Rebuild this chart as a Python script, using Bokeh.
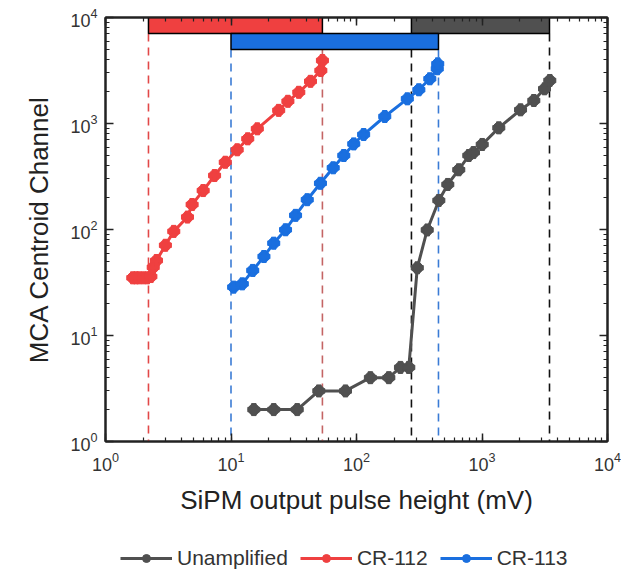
from bokeh.plotting import figure
from bokeh.layouts import column
from bokeh.models import LogAxis, Legend, LegendItem, Range1d, CustomJSTickFormatter
from bokeh.embed import file_html
from bokeh.resources import INLINE

# ---------------- data ----------------
gray_x = [15.2, 21.9, 33.7, 50.1, 81.7, 129, 181, 224, 261, 305, 366, 453, 534, 653, 785, 855, 1004, 1361, 2028, 2588, 3148, 3470]
gray_y = [2, 2, 2, 3, 3, 4, 4, 5, 5, 43.5, 99, 188, 266, 366, 499, 532, 634, 910, 1346, 1648, 2125, 2545]

red_x = [1.65, 1.75, 1.85, 2.0, 2.15, 2.3, 2.4, 2.55, 3.0, 3.5, 4.5, 4.9, 6.0, 7.4, 9.0, 11.2, 13.6, 16.2, 24.0, 28.4, 34.7, 43.0, 52.0, 53.5]
red_y = [35, 35, 35, 35, 35, 36, 44, 51, 71, 96, 131, 172, 233, 323, 431, 565, 717, 891, 1330, 1620, 1970, 2500, 3160, 3930]

blue_x = [10.5, 12.3, 14.9, 18.3, 21.9, 27.2, 32.7, 40.5, 51.6, 65.2, 79.2, 95.1, 114, 168, 254, 314, 384, 440, 444]
blue_y = [28.6, 30.7, 41.1, 55.6, 74.3, 99.4, 136, 191, 273, 382, 499, 642, 787, 1164, 1709, 2080, 2641, 3282, 3656]

series_names = ["Unamplified", "CR-112", "CR-113"]
series_colors = ["#505050", "#ef4040", "#1a6fdf"]

# operating-range bars at the top
bar_left = [2.2, 274, 10]
bar_right = [53.5, 3450, 450]
bar_bottom = [7060, 7060, 4990]
bar_top = [10000, 10000, 7060]
bar_colors = ["#ef4040", "#505050", "#1a6fdf"]

# dashed range limits
dash_x = [2.2, 53.5, 10, 450, 274, 3450]
dash_top = [7060, 7060, 4990, 4990, 4990, 7060]
dash_bottom = [1, 1, 1, 1, 1, 1]
dash_colors = ["#e24848", "#c46464", "#3a7bd5", "#3a7bd5", "#111111", "#111111"]

FONT = "Liberation Sans"

p = figure(width=621, height=530, x_axis_type="log", y_axis_type="log",
           x_range=Range1d(1, 10000), y_range=Range1d(1, 10000),
           output_backend="svg", toolbar_location=None,
           min_border_left=105, min_border_right=14, min_border_top=17, min_border_bottom=89)
p.grid.visible = False
p.outline_line_color = "#222222"
p.outline_line_width = 2

# dashed lines
p.segment(x0=dash_x, x1=dash_x, y0=dash_top, y1=dash_bottom, line_color=dash_colors,
          line_width=1.6, line_dash="8 6")

series = [(gray_x, gray_y), (red_x, red_y), (blue_x, blue_y)]
for (xs, ys), col in zip(series, series_colors):
    p.line(xs, ys, line_color=col, line_width=3)
    p.scatter(xs, ys, marker="circle", size=11, fill_color=col, line_color=col)
    p.scatter(xs, ys, marker="plus", size=12, fill_color=col, line_color=col)

# top bars
p.quad(left=bar_left, right=bar_right, bottom=bar_bottom, top=bar_top,
       fill_color=bar_colors, line_color="#000000", line_width=1.5)

# axes styling
for ax in [p.xaxis[0], p.yaxis[0]]:
    ax.axis_line_width = 2
    ax.axis_line_color = "#222222"
    ax.major_tick_in = 8
    ax.major_tick_out = 0
    ax.minor_tick_in = 4
    ax.minor_tick_out = 0
    ax.major_tick_line_width = 1.5
    ax.minor_tick_line_width = 1.2
    ax.major_tick_line_color = "#222222"
    ax.minor_tick_line_color = "#222222"
    ax.major_label_text_font = FONT
    ax.major_label_text_font_size = "18px"
    ax.major_label_text_color = "#333333"
    ax.axis_label_text_font = FONT
    ax.axis_label_text_font_style = "normal"
    ax.axis_label_text_font_size = "26px"
    ax.axis_label_text_color = "#222222"
    ax.ticker.num_minor_ticks = 10

p.xaxis[0].axis_label = "SiPM output pulse height (mV)"
p.yaxis[0].axis_label = "MCA Centroid Channel"
p.xaxis[0].major_label_standoff = 10
p.xaxis[0].axis_label_standoff = 11
p.yaxis[0].major_label_standoff = 8
p.yaxis[0].axis_label_standoff = 13

for loc in ["above", "right"]:
    ax = LogAxis(formatter=CustomJSTickFormatter(code="return ''"))
    ax.axis_line_width = 2
    ax.axis_line_color = "#222222"
    ax.major_tick_in = 8
    ax.major_tick_out = 0
    ax.minor_tick_in = 4
    ax.minor_tick_out = 0
    ax.major_tick_line_width = 1.5
    ax.minor_tick_line_width = 1.2
    ax.major_tick_line_color = "#222222"
    ax.minor_tick_line_color = "#222222"
    ax.major_label_text_font_size = "0px"
    ax.major_label_standoff = 0
    ax.ticker.num_minor_ticks = 10
    p.add_layout(ax, loc)

# legend strip below the chart: the same series, held outside this strip's visible range
pl = figure(width=621, height=45, output_backend="svg", toolbar_location=None,
            x_axis_type=None, y_axis_type=None,
            x_range=Range1d(-1, 0), y_range=Range1d(-1, 0),
            min_border_left=0, min_border_right=0, min_border_top=0, min_border_bottom=0)
pl.grid.visible = False
pl.outline_line_color = None
legend_items = []
for (xs, ys), name, col in zip(series, series_names, series_colors):
    lr = pl.line(xs, ys, line_color=col, line_width=3)
    sr = pl.scatter(xs, ys, marker="circle", size=11, fill_color=col, line_color=col)
    legend_items.append(LegendItem(label=name, renderers=[lr, sr]))

legend = Legend(items=legend_items, orientation="horizontal", location=(15, 5))
legend.border_line_color = None
legend.background_fill_alpha = 0
legend.padding = 0
legend.margin = 0
legend.spacing = 12
legend.glyph_width = 52
legend.glyph_height = 20
legend.label_standoff = 5
legend.label_text_font = FONT
legend.label_text_font_size = "21px"
legend.label_text_color = "#333333"
legend.label_height = 20
pl.add_layout(legend, "center")

open("out.html", "w").write(file_html(column(p, pl), INLINE))
